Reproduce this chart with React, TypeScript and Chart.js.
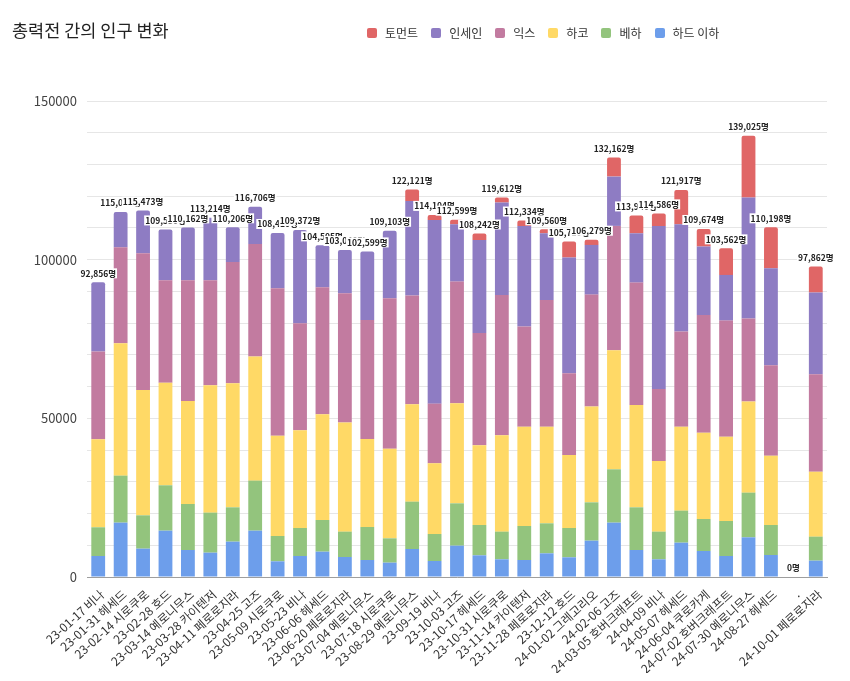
import React, { useEffect, useRef } from 'react';
import { Chart, registerables } from 'chart.js';

Chart.register(...registerables);

const categories = [
  '23-01-17 비나', '23-01-31 헤세드', '23-02-14 시로쿠로', '23-02-28 호드', '23-03-14 예로니무스',
  '23-03-28 카이텐저', '23-04-11 페로로지라', '23-04-25 고즈', '23-05-09 시로쿠로', '23-05-23 비나',
  '23-06-06 헤세드', '23-06-20 페로로지라', '23-07-04 예로니무스', '23-07-18 시로쿠로', '23-08-29 예로니무스',
  '23-09-19 비나', '23-10-03 고즈', '23-10-17 헤세드', '23-10-31 시로쿠로', '23-11-14 카이텐저',
  '23-11-28 페로로지라', '23-12-12 호드', '24-01-02 그레고리오', '24-02-06 고즈', '24-03-05 호버크래프트',
  '24-04-09 비나', '24-05-07 헤세드', '24-06-04 쿠로카게', '24-07-02 호버크래프트', '24-07-30 예로니무스',
  '24-08-27 헤세드', '.', '24-10-01 페로로지라',
];

// 하드 이하
const hardBelow = [6620, 17130, 8930, 14600, 8510, 7670, 11140, 14600, 4940, 6620, 7980, 6300, 5360, 4520, 8830, 5040, 9870, 6830, 5570, 5360, 7460, 6200, 11450, 17130, 8510, 5570, 10820, 8200, 6620, 12500, 6930, 0, 5150];
// 베하
const beha = [9050, 14810, 10510, 14300, 14500, 12610, 10820, 15770, 7980, 8825, 9990, 7990, 10400, 7670, 14910, 8510, 13350, 9560, 8720, 10715, 9460, 9245, 12080, 16810, 13450, 8720, 10090, 10080, 11030, 14080, 9460, 0, 7560];
// 하코
const hako = [27730, 41710, 39500, 32350, 32465, 40130, 39080, 39080, 31630, 30785, 33300, 34360, 27740, 28260, 30680, 22280, 31520, 25110, 30360, 31305, 30460, 23005, 30160, 37510, 32250, 22270, 26470, 27210, 26580, 28690, 21850, 0, 20490];
// 익스
const extreme = [27630, 30260, 43080, 32260, 38035, 33100, 38250, 35510, 46440, 33730, 40030, 40760, 37510, 47380, 34260, 18800, 38350, 35410, 44240, 31520, 39930, 25740, 35300, 39190, 38560, 22700, 29950, 37090, 36570, 26160, 28480, 0, 30680];
// 인세인
const insane = [21826, 11120, 13453, 16020, 16652, 19704, 10916, 11746, 17420, 29412, 13205, 13630, 21589, 21273, 29840, 57900, 18070, 29310, 29100, 31740, 21010, 36460, 15660, 15540, 15550, 51380, 33830, 21540, 14390, 38130, 30570, 0, 25740];
// 토먼트
const torment = [0, 0, 0, 0, 0, 0, 0, 0, 0, 0, 0, 0, 0, 0, 3601, 1574, 1439, 2022, 1622, 1694, 1240, 5060, 1629, 5982, 5620, 3946, 10757, 5554, 8372, 19465, 12908, 0, 8242];

const seriesNames = ['하드 이하', '베하', '하코', '익스', '인세인', '토먼트'];
const seriesColors = ['#6d9eeb', '#93c47d', '#ffd966', '#c27ba0', '#8e7cc3', '#e06666'];
const yTickLabels = [0, 50000, 100000, 150000];
const titleText = '총력전 간의 인구 변화';
const unitSuffix = '명';

const FONT = '"Noto Sans CJK KR", "Noto Sans", sans-serif';

export default function App() {
  const ref = useRef<HTMLCanvasElement>(null);

  useEffect(() => {
    if (!ref.current) return;
    const series = [hardBelow, beha, hako, extreme, insane, torment];
    const totals = categories.map((_, i) => series.reduce((s, arr) => s + arr[i], 0));

    const totalLabels = {
      id: 'totalLabels',
      afterDatasetsDraw(chart: any) {
        const { ctx } = chart;
        const xs = chart.scales.x;
        const ys = chart.scales.y;
        ctx.save();
        ctx.font = `bold 8.5px ${FONT}`;
        ctx.textAlign = 'center';
        ctx.textBaseline = 'middle';
        totals.forEach((t, i) => {
          const x = xs.getPixelForValue(i);
          const y = ys.getPixelForValue(t) - 9;
          const text = t.toLocaleString('en-US') + unitSuffix;
          const w = ctx.measureText(text).width;
          ctx.fillStyle = '#ffffff';
          ctx.fillRect(x - w / 2 - 1, y - 5, w + 2, 10);
          ctx.fillStyle = '#222222';
          ctx.fillText(text, x, y);
        });
        ctx.restore();
      },
    };

    const chart = new Chart(ref.current, {
      type: 'bar',
      data: {
        labels: categories,
        datasets: series.map((d, k) => ({
          label: seriesNames[k],
          data: d,
          backgroundColor: seriesColors[k],
          borderRadius: 2,
          barPercentage: 0.77,
          categoryPercentage: 0.8,
        })),
      },
      options: {
        animation: false,
        responsive: false,
        layout: { padding: { top: 93, left: 22, right: 15, bottom: 0 } },
        plugins: {
          legend: { display: false },
          title: { display: false },
          tooltip: { enabled: false },
        },
        scales: {
          x: {
            stacked: true,
            grid: { display: false, drawTicks: false },
            border: { display: true, color: '#9e9e9e', width: 1 },
            ticks: {
              autoSkip: false,
              minRotation: 42,
              maxRotation: 42,
              padding: 10,
              labelOffset: 4,
              color: '#333333',
              font: { family: FONT, size: 12 },
            },
            afterFit: (s: any) => { s.height = 96; },
          },
          y: {
            stacked: true,
            min: 0,
            max: 150000,
            border: { display: false },
            grid: { color: '#e6e6e6', drawTicks: false },
            ticks: {
              stepSize: 10000,
              padding: 10,
              color: '#444444',
              font: { family: FONT, size: 13 },
              callback: (v: any) => (yTickLabels.includes(Number(v)) ? String(v) : ''),
            },
            afterFit: (s: any) => { s.width = 57; },
          },
        },
      },
      plugins: [totalLabels],
    });
    return () => chart.destroy();
  }, []);

  const legendItems = seriesNames.map((n, k) => ({ name: n, color: seriesColors[k] })).reverse();

  return (
    <div style={{ position: 'relative', width: 834, height: 665, fontFamily: FONT }}>
      <canvas ref={ref} width={834} height={665} style={{ display: 'block' }} />
      <div style={{ position: 'absolute', left: 4, top: 12, fontSize: 17.5, lineHeight: '20px', color: '#222' }}>
        {titleText}
      </div>
      <div style={{ position: 'absolute', left: 359, top: 18, display: 'flex', alignItems: 'center', fontSize: 12, lineHeight: '14px', color: '#333' }}>
        {legendItems.map((it) => (
          <div key={it.name} style={{ display: 'flex', alignItems: 'center', marginRight: 13 }}>
            <span style={{ display: 'inline-block', width: 10, height: 10, borderRadius: 2, background: it.color, marginRight: 8 }} />
            <span>{it.name}</span>
          </div>
        ))}
      </div>
    </div>
  );
}
